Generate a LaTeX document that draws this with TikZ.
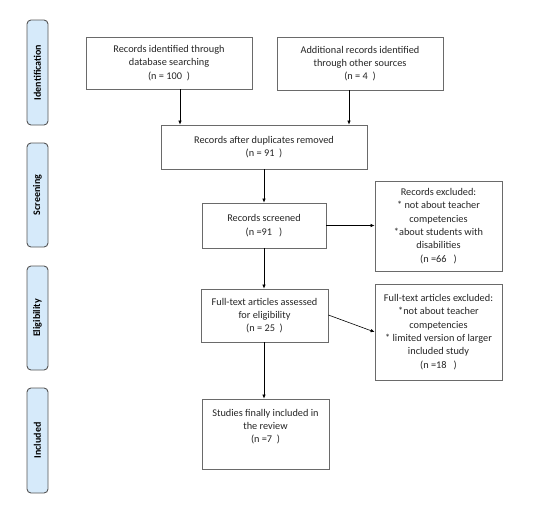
\documentclass[tikz,border=0pt]{standalone}
\usepackage{fontspec}
\setmainfont{Carlito}
\usetikzlibrary{arrows.meta}
\definecolor{boxline}{HTML}{6A6A6A}
\definecolor{sidefill}{HTML}{D6EAFA}
\definecolor{sideline}{HTML}{555555}
\definecolor{txt}{HTML}{262626}
\tikzset{
  flowbox/.style={draw=boxline, line width=0.8pt, fill=white, align=center,
    text=txt, font=\fontsize{10.3}{13.3}\selectfont, inner sep=2pt},
  sidebox/.style={draw=sideline, line width=0.9pt, fill=sidefill, rounded corners=4pt,
    minimum width=21pt, minimum height=104pt},
  sidetext/.style={rotate=90, font=\bfseries\fontsize{10}{12}\selectfont, text=black},
  flowarrow/.style={draw=black, line width=0.6pt, -{Latex[length=4pt,width=3.5pt]}}
}
\begin{document}
\begin{tikzpicture}[x=1pt,y=-1pt]
\useasboundingbox (0,0) rectangle (540,504);
% side phase boxes
\node[sidebox, minimum height=105pt] (s1) at (37.5,72.5) {};
\node[sidetext] (t1) at (s1.center) {Identification};
\node[sidebox] (s2) at (37.5,195) {};
\node[sidetext] (t2) at (s2.center) {Screening};
\node[sidebox] (s3) at (37.5,318) {};
\node[sidetext] (t3) at (s3.center) {Eligibility};
\node[sidebox, minimum height=105pt] (s4) at (37.5,440.5) {};
\node[sidetext] (t4) at (s4.center) {Included};
% flow boxes
\node[flowbox, minimum width=166pt, minimum height=52pt] (b1) at (169,63)
  {Records identified through\\database searching\\(n = 100~~)};
\node[flowbox, minimum width=166pt, minimum height=53pt] (b2) at (360,63.5)
  {Additional records identified\\through other sources\\(n = 4~~)};
\node[flowbox, minimum width=206pt, minimum height=44pt] (b3) at (264,147)
  {Records after duplicates removed\\(n = 91~~)};
\node[flowbox, minimum width=124pt, minimum height=45pt] (b4) at (264,225.5)
  {Records screened\\(n =91~~~)};
\node[flowbox, minimum width=127pt, minimum height=90pt] (b5) at (438.5,226)
  {Records excluded:\\* not about teacher\\competencies\\*about students with\\disabilities\\(n =66~~~)};
\node[flowbox, minimum width=127pt, minimum height=53pt] (b6) at (264.5,315.5)
  {Full-text articles assessed\\for eligibility\\(n = 25~~)};
\node[flowbox, minimum width=127pt, minimum height=96pt] (b7) at (438.5,332)
  {Full-text articles excluded:\\*not about teacher\\competencies\\* limited version of larger\\included study\\(n =18~~~)};
\node[flowbox, minimum width=127pt, minimum height=70pt] (b8) at (265.5,434)
  {Studies finally included in\\the review\\(n =7~~)\\[3pt]\mbox{}};
% connectors
\draw[flowarrow] (b1.south -| 180,0) -- (b3.north -| 180,0);
\draw[flowarrow] (b2.south -| 349,0) -- (b3.north -| 349,0);
\draw[flowarrow] (b3.south -| b4.north) -- (b4.north);
\draw[flowarrow] (b4.east) -- (b5.west |- b4.east);
\draw[flowarrow] (b4.south) -- (b6.north -| b4.south);
\draw[flowarrow] ([yshift=0.5pt]b6.east) -- ([yshift=0pt]b7.west);
\draw[flowarrow] (b6.south -| b4.south) -- (b8.north -| b4.south);
\end{tikzpicture}
\end{document}
